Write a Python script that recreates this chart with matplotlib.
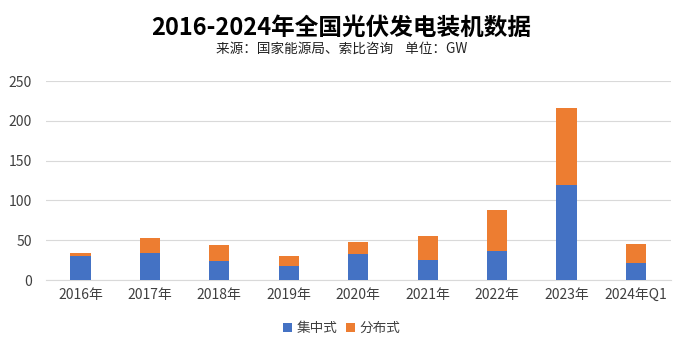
import matplotlib
matplotlib.use("Agg")
import matplotlib.pyplot as plt
import numpy as np

plt.rcParams['font.family'] = ['Noto Sans CJK SC', 'DejaVu Sans']

categories = ["2016年", "2017年", "2018年", "2019年", "2020年", "2021年", "2022年", "2023年", "2024年Q1"]
centralized = [30.3, 33.6, 23.3, 17.9, 32.7, 25.6, 36.3, 120.0, 21.9]
distributed = [4.2, 19.4, 20.9, 12.2, 15.5, 29.3, 51.1, 96.3, 23.8]
yticks = [0, 50, 100, 150, 200, 250]

fig = plt.figure(figsize=(6.83, 3.54), dpi=100)
ax = fig.add_axes([0.067, 0.209, 0.915, 0.562])

x = np.arange(len(categories))
w = 0.29
ax.bar(x, centralized, width=w, color='#4472C4', label='集中式', zorder=3)
ax.bar(x, distributed, width=w, bottom=centralized, color='#ED7D31', label='分布式', zorder=3)

ax.set_xlim(-0.5, len(categories) - 0.5)
ax.set_ylim(0, 250)
ax.set_yticks(yticks)
ax.set_xticks(x)
ax.set_xticklabels(categories)
ax.grid(axis='y', color='#d9d9d9', linewidth=0.8, zorder=0)
for s in ['top', 'right', 'left']:
    ax.spines[s].set_visible(False)
ax.spines['bottom'].set_color('#d9d9d9')
ax.tick_params(axis='both', length=0, labelsize=10, colors='#404040')
ax.tick_params(axis='x', pad=6)
ax.tick_params(axis='y', pad=10)

fig.text(0.5, 0.922, '2016-2024年全国光伏发电装机数据', ha='center', va='center',
         fontsize=17, fontweight='bold', color='black')
fig.text(0.5, 0.862, '来源：国家能源局、索比咨询    单位：GW', ha='center', va='center',
         fontsize=9.8, color='#222222')

handles, labels = ax.get_legend_handles_labels()
fig.legend(handles, labels, loc='center', bbox_to_anchor=(0.5, 0.073), ncol=2,
           frameon=False, fontsize=9.8, handlelength=0.7, handleheight=0.7,
           handletextpad=0.3, columnspacing=0.6, labelcolor='#404040')

fig.savefig('out.png', dpi=100)
